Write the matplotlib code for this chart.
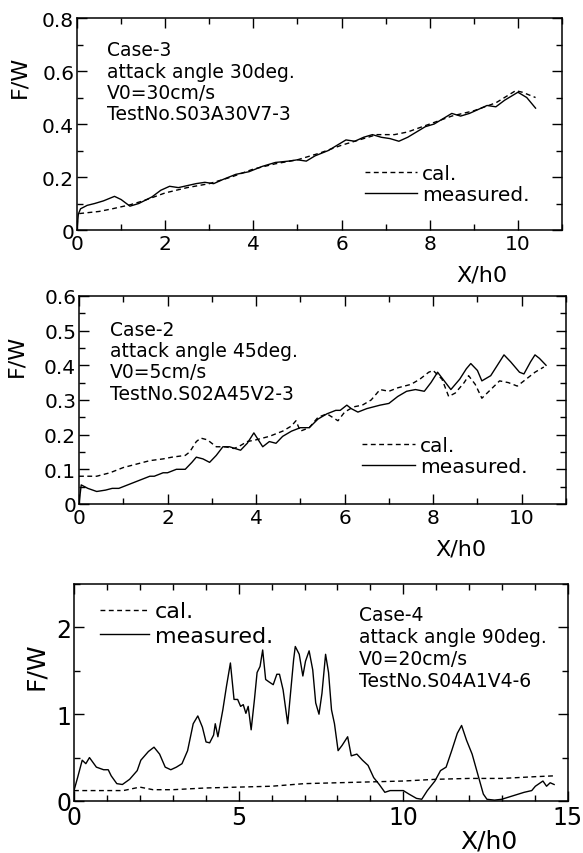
import matplotlib
matplotlib.use("Agg")
import matplotlib.pyplot as plt
from matplotlib.lines import Line2D
from matplotlib.ticker import MultipleLocator

plt.rcParams['font.family'] = ['DejaVu Sans']

# Case-3 : attack angle 30deg
c3_meas_x = [0.0, 0.03, 0.08, 0.23, 0.4, 0.6, 0.85, 1.0, 1.2, 1.4, 1.7, 1.9, 2.1, 2.3, 2.7,
             2.9, 3.1, 3.3, 3.6, 3.9, 4.2, 4.5, 4.8, 5.0, 5.2, 5.4, 5.7, 5.9, 6.1, 6.3,
             6.5, 6.7, 6.9, 7.1, 7.3, 7.5, 7.7, 7.9, 8.1, 8.3, 8.5, 8.7, 8.9, 9.1, 9.3,
             9.5, 9.7, 9.9, 10.0, 10.2, 10.4]
c3_meas_y = [0.0, 0.06, 0.08, 0.093, 0.10, 0.11, 0.127, 0.115, 0.09, 0.10, 0.125, 0.15, 0.165,
             0.16, 0.175, 0.18, 0.175, 0.19, 0.21, 0.22, 0.24, 0.255, 0.26, 0.265, 0.26,
             0.28, 0.30, 0.32, 0.34, 0.335, 0.35, 0.36, 0.35, 0.345, 0.335, 0.35, 0.37,
             0.39, 0.40, 0.42, 0.44, 0.43, 0.44, 0.455, 0.47, 0.465, 0.49, 0.51, 0.52,
             0.50, 0.46]
c3_cal_x = [0.05, 0.5, 0.8, 1.2, 1.5, 2.0, 2.5, 3.0, 3.5, 4.0, 4.5, 5.0, 5.5, 6.0, 6.4,
            6.8, 7.2, 7.5, 8.0, 8.5, 9.0, 9.5, 9.95, 10.1, 10.4]
c3_cal_y = [0.062, 0.07, 0.08, 0.095, 0.11, 0.14, 0.16, 0.175, 0.20, 0.23, 0.25, 0.265,
            0.29, 0.32, 0.34, 0.36, 0.36, 0.37, 0.40, 0.43, 0.45, 0.48, 0.526, 0.52, 0.50]

# Case-2 : attack angle 45deg
c2_meas_x = [0.0, 0.05, 0.2, 0.4, 0.6, 0.75, 0.9, 1.1, 1.3, 1.5, 1.6, 1.7, 1.9, 2.0, 2.2,
             2.4, 2.55, 2.65, 2.8, 2.95, 3.1, 3.25, 3.4, 3.65, 3.8, 3.95, 4.05, 4.15, 4.3,
             4.45, 4.6, 4.8, 5.0, 5.2, 5.4, 5.6, 5.8, 5.9, 6.05, 6.15, 6.3, 6.5, 6.8, 7.0,
             7.2, 7.4, 7.6, 7.8, 7.95, 8.1, 8.25, 8.4, 8.6, 8.75, 8.85, 9.0, 9.1, 9.3, 9.5,
             9.6, 9.75, 9.95, 10.05, 10.2, 10.3, 10.4, 10.55]
c2_meas_y = [0.0, 0.055, 0.045, 0.036, 0.04, 0.045, 0.045, 0.055, 0.065, 0.075, 0.08, 0.08,
             0.09, 0.09, 0.10, 0.10, 0.12, 0.135, 0.13, 0.12, 0.14, 0.165, 0.165, 0.155,
             0.175, 0.205, 0.185, 0.165, 0.18, 0.175, 0.195, 0.21, 0.22, 0.22, 0.245, 0.26,
             0.27, 0.27, 0.285, 0.275, 0.265, 0.275, 0.285, 0.29, 0.31, 0.325, 0.33, 0.325,
             0.35, 0.38, 0.355, 0.33, 0.36, 0.39, 0.405, 0.385, 0.355, 0.37, 0.41, 0.43,
             0.41, 0.38, 0.375, 0.41, 0.43, 0.42, 0.40]
c2_cal_x = [0.0, 0.4, 0.7, 1.0, 1.3, 1.6, 1.9, 2.1, 2.4, 2.5, 2.65, 2.75, 2.9, 3.1, 3.3,
            3.5, 3.6, 3.8, 4.0, 4.3, 4.6, 4.8, 4.9, 5.0, 5.2, 5.4, 5.6, 5.85, 6.0, 6.2,
            6.4, 6.6, 6.8, 7.0, 7.2, 7.5, 7.7, 7.9, 8.0, 8.2, 8.35, 8.5, 8.7, 8.8, 8.95,
            9.1, 9.3, 9.5, 9.7, 9.9, 10.1, 10.3, 10.5]
c2_cal_y = [0.08, 0.08, 0.09, 0.105, 0.115, 0.125, 0.13, 0.135, 0.14, 0.15, 0.18, 0.19,
            0.185, 0.165, 0.165, 0.16, 0.165, 0.18, 0.185, 0.195, 0.21, 0.225, 0.24, 0.21,
            0.22, 0.25, 0.26, 0.24, 0.265, 0.28, 0.285, 0.30, 0.33, 0.325, 0.335, 0.345,
            0.36, 0.38, 0.385, 0.36, 0.31, 0.32, 0.35, 0.37, 0.345, 0.305, 0.33, 0.355,
            0.35, 0.34, 0.36, 0.38, 0.395]

# Case-4 : attack angle 90deg
c4_meas_x = [0.0, 0.11, 0.25, 0.36, 0.47, 0.68, 0.9, 1.04, 1.13, 1.3, 1.47, 1.69, 1.92,
             2.03, 2.26, 2.43, 2.6, 2.77, 2.94, 3.11, 3.28, 3.45, 3.62, 3.76, 3.9, 4.01,
             4.12, 4.24, 4.29, 4.37, 4.52, 4.63, 4.75, 4.86, 4.97, 5.06, 5.14, 5.22, 5.29,
             5.38, 5.48, 5.56, 5.65, 5.73, 5.82, 5.93, 6.05, 6.16, 6.24, 6.35, 6.49, 6.58,
             6.67, 6.72, 6.84, 6.95, 7.03, 7.14, 7.25, 7.34, 7.44, 7.53, 7.64, 7.73, 7.82,
             7.91, 8.02, 8.14, 8.31, 8.42, 8.59, 8.76, 8.93, 9.1, 9.27, 9.44, 9.6, 9.83,
             10.0, 10.17, 10.4, 10.56, 10.73, 10.96, 11.13, 11.3, 11.47, 11.64, 11.77,
             11.92, 12.09, 12.26, 12.43, 12.54, 12.77, 12.99, 13.33, 13.67, 13.9, 14.01,
             14.24, 14.35, 14.46, 14.58]
c4_meas_y = [0.12, 0.27, 0.47, 0.43, 0.50, 0.39, 0.36, 0.36, 0.29, 0.20, 0.19, 0.25, 0.35,
             0.47, 0.57, 0.62, 0.54, 0.39, 0.36, 0.39, 0.43, 0.58, 0.89, 0.98, 0.85, 0.68,
             0.67, 0.76, 0.89, 0.74, 1.05, 1.32, 1.59, 1.17, 1.17, 1.09, 1.11, 1.01, 1.09,
             0.82, 1.17, 1.48, 1.55, 1.74, 1.40, 1.37, 1.34, 1.46, 1.46, 1.28, 0.89, 1.26,
             1.63, 1.78, 1.69, 1.44, 1.61, 1.73, 1.51, 1.13, 1.00, 1.24, 1.69, 1.48, 1.05,
             0.89, 0.58, 0.64, 0.74, 0.52, 0.54, 0.47, 0.41, 0.27, 0.19, 0.10, 0.12, 0.12,
             0.12, 0.08, 0.03, 0.02, 0.12, 0.23, 0.35, 0.39, 0.58, 0.78, 0.87, 0.70, 0.54,
             0.31, 0.08, 0.02, 0.01, 0.02, 0.06, 0.10, 0.12, 0.17, 0.23, 0.17, 0.21, 0.19]
c4_cal_x = [0.0, 1.5, 2.0, 2.4, 3.0, 4.0, 5.0, 6.0, 7.0, 8.0, 9.0, 10.0, 11.0, 12.0, 13.0,
            14.0, 14.6]
c4_cal_y = [0.12, 0.12, 0.16, 0.13, 0.13, 0.15, 0.16, 0.17, 0.20, 0.21, 0.22, 0.23, 0.25,
            0.26, 0.26, 0.28, 0.29]

c3_text = "Case-3\nattack angle 30deg.\nV0=30cm/s\nTestNo.S03A30V7-3"
c2_text = "Case-2\nattack angle 45deg.\nV0=5cm/s\nTestNo.S02A45V2-3"
c4_text = "Case-4\nattack angle 90deg.\nV0=20cm/s\nTestNo.S04A1V4-6"

DASH = (0, (3.5, 2.5))


def style_axes(ax, xmaj, xmin, ymaj, ymin, tick_fs):
    ax.xaxis.set_major_locator(MultipleLocator(xmaj))
    ax.xaxis.set_minor_locator(MultipleLocator(xmin))
    ax.yaxis.set_major_locator(MultipleLocator(ymaj))
    ax.yaxis.set_minor_locator(MultipleLocator(ymin))
    ax.tick_params(which='both', direction='in', top=True, right=True, width=1.0)
    ax.tick_params(which='major', length=7, labelsize=tick_fs)
    ax.tick_params(which='minor', length=4)
    ax.tick_params(axis='x', which='major', pad=3)
    ax.tick_params(axis='y', which='major', pad=2)
    for sp in ax.spines.values():
        sp.set_linewidth(1.1)


def draw_case(ax, mx, my, cx, cy):
    ax.plot(cx, cy, color='black', lw=1.0, ls=DASH)
    ax.plot(mx, my, color='black', lw=1.0)


def add_legend(ax, anchor, fs, hlen=2.6, spacing=0.1):
    handles = [Line2D([], [], color='black', lw=1.0, ls=DASH),
               Line2D([], [], color='black', lw=1.0)]
    ax.legend(handles, ['cal.', 'measured.'], loc='upper left', bbox_to_anchor=anchor,
              frameon=False, fontsize=fs, handlelength=hlen, handletextpad=0.25,
              labelspacing=spacing, borderpad=0, borderaxespad=0)


fig = plt.figure(figsize=(5.83, 8.54), dpi=100)

# top panel
ax1 = fig.add_axes([0.1321, 0.7295, 0.8319, 0.2482])
draw_case(ax1, c3_meas_x, c3_meas_y, c3_cal_x, c3_cal_y)
ax1.set_xlim(0, 11)
ax1.set_ylim(0, 0.8)
style_axes(ax1, 2, 1, 0.2, 0.1, 14.5)
ax1.yaxis.set_major_formatter(lambda v, p: '0' if v == 0 else f'{v:.1f}')
ax1.set_xlabel('X/h0', fontsize=16)
ax1.xaxis.set_label_coords(0.835, -0.212)
ax1.xaxis.label.set_va('center')
ax1.set_ylabel('F/W', fontsize=16)
ax1.yaxis.set_label_coords(-0.118, 0.726)
ax1.yaxis.label.set_va('center')
ax1.text(0.062, 0.895, c3_text, transform=ax1.transAxes, ha='left', va='top',
         fontsize=13.5, linespacing=1.15)
add_legend(ax1, (0.593, 0.31), 14.5)

# middle panel
ax2 = fig.add_axes([0.1355, 0.4087, 0.8353, 0.2436])
draw_case(ax2, c2_meas_x, c2_meas_y, c2_cal_x, c2_cal_y)
ax2.set_xlim(0, 11)
ax2.set_ylim(0, 0.6)
style_axes(ax2, 2, 1, 0.1, 0.05, 14.5)
ax2.yaxis.set_major_formatter(lambda v, p: '0' if v == 0 else f'{v:.1f}')
ax2.set_xlabel('X/h0', fontsize=16)
ax2.xaxis.set_label_coords(0.784, -0.212)
ax2.xaxis.label.set_va('center')
ax2.set_ylabel('F/W', fontsize=16)
ax2.yaxis.set_label_coords(-0.129, 0.716)
ax2.yaxis.label.set_va('center')
ax2.text(0.064, 0.885, c2_text, transform=ax2.transAxes, ha='left', va='top',
         fontsize=13.5, linespacing=1.15)
add_legend(ax2, (0.582, 0.325), 14.5)

# bottom panel
ax3 = fig.add_axes([0.1269, 0.0609, 0.8473, 0.2541])
draw_case(ax3, c4_meas_x, c4_meas_y, c4_cal_x, c4_cal_y)
ax3.set_xlim(0, 15)
ax3.set_ylim(0, 2.5)
style_axes(ax3, 5, 1, 1, 0.5, 17)
ax3.set_xlabel('X/h0', fontsize=18)
ax3.xaxis.set_label_coords(0.840, -0.180)
ax3.xaxis.label.set_va('center')
ax3.set_ylabel('F/W', fontsize=18)
ax3.yaxis.set_label_coords(-0.077, 0.627)
ax3.yaxis.label.set_va('center')
ax3.text(0.576, 0.902, c4_text, transform=ax3.transAxes, ha='left', va='top',
         fontsize=13.5, linespacing=1.2)
add_legend(ax3, (0.053, 0.92), 16, hlen=2.2, spacing=0.2)

fig.savefig('out.png', dpi=100)
plt.close(fig)
